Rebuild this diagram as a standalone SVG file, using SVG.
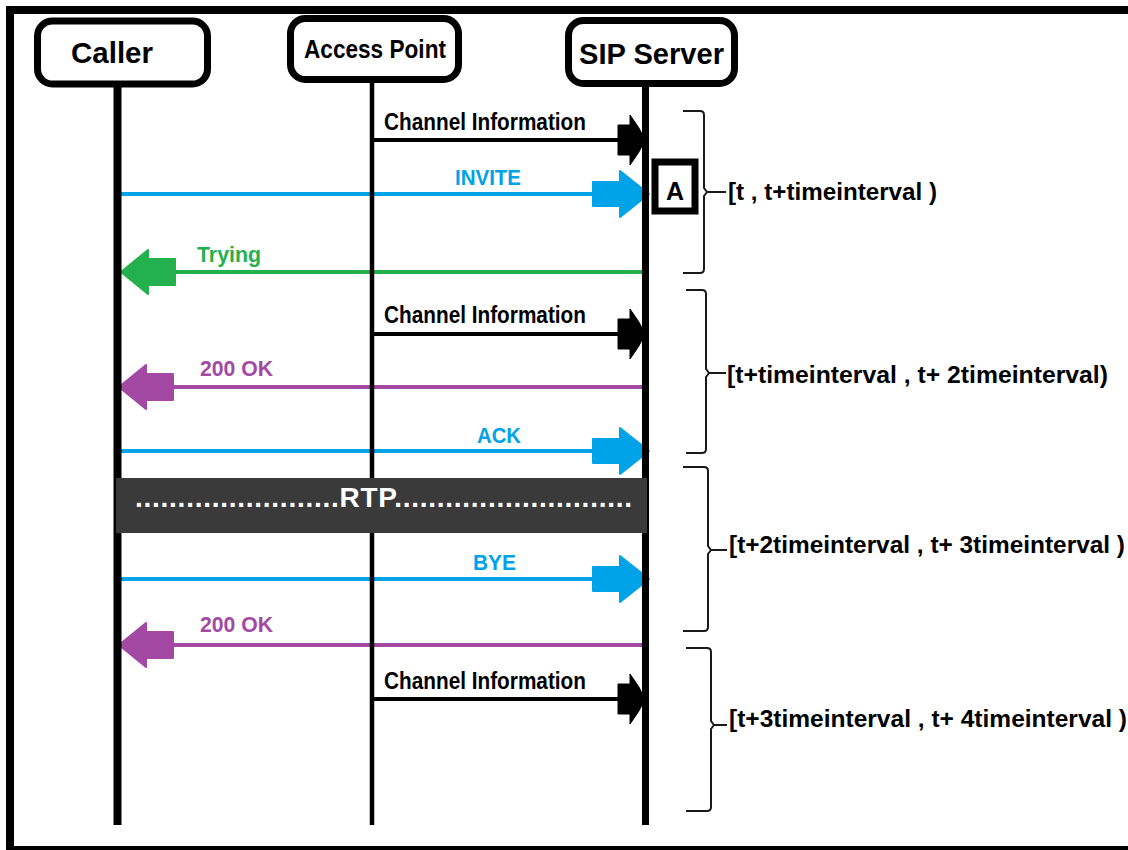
<svg xmlns="http://www.w3.org/2000/svg" xmlns:xlink="http://www.w3.org/1999/xlink" width="1128" height="850" viewBox="0 0 1128 850">
<style>
.t{font-family:"Liberation Sans",Arial,sans-serif;font-weight:bold;}
.box{fill:#fff;stroke:#000;stroke-width:7;}
.life{stroke:#000;fill:none;}
.msg{fill:none;stroke-width:4;}
.brace{fill:none;stroke:#1a1a1a;stroke-width:2;}
.blue{stroke:#00A2E8;fill:#00A2E8;}
.green{stroke:#22B14C;fill:#22B14C;}
.purple{stroke:#A349A4;fill:#A349A4;}
.black{stroke:#000;fill:#000;}
</style>
<defs>
<path id="arR" d="M-57,-12 H-30 V-23 L-1,0 L-30,23 V12 H-57 Z" stroke-width="2" stroke-linejoin="round"/>
<path id="arL" d="M55,-13 H28 V-22 L1,0 L28,22 V13 H55 Z" stroke-width="2" stroke-linejoin="round"/>
<path id="arK" d="M-27,-15 H-15 V-25 Q-5,-12 0,0 Q-5,12 -15,25 V15 H-27 Z" stroke-width="1" stroke-linejoin="round"/>
</defs>
<rect width="1128" height="850" fill="#fff"/>
<g id="frame">
<path d="M10,850 V10 H1128" fill="none" stroke="#000" stroke-width="8"/>
<path d="M6,848 H1128" fill="none" stroke="#000" stroke-width="4"/>
</g>
<g id="connectors">
<g id="m1-channel-info">
<line class="msg black" x1="372" y1="140" x2="622" y2="140"/>
<use xlink:href="#arK" x="645" y="140" class="black"/>
<text class="t" x="384" y="130" font-size="24" textLength="202" lengthAdjust="spacingAndGlyphs">Channel Information</text>
</g>
<g id="m2-invite">
<line class="msg blue" x1="120" y1="194" x2="598" y2="194"/>
<use xlink:href="#arR" x="650" y="194" class="blue"/>
<text class="t" x="455" y="185" font-size="22" fill="#00A2E8" textLength="66" lengthAdjust="spacingAndGlyphs">INVITE</text>
</g>
<g id="m3-trying">
<line class="msg green" x1="645" y1="272" x2="170" y2="272"/>
<use xlink:href="#arL" x="120" y="272" class="green"/>
<text class="t" x="197" y="262" font-size="22" fill="#22B14C" textLength="64" lengthAdjust="spacingAndGlyphs">Trying</text>
</g>
<g id="m4-channel-info">
<line class="msg black" x1="372" y1="334" x2="622" y2="334"/>
<use xlink:href="#arK" x="645" y="334" class="black"/>
<text class="t" x="384" y="323" font-size="24" textLength="202" lengthAdjust="spacingAndGlyphs">Channel Information</text>
</g>
<g id="m5-200ok">
<line class="msg purple" x1="645" y1="387" x2="170" y2="387"/>
<use xlink:href="#arL" x="118" y="387" class="purple"/>
<text class="t" x="200" y="376" font-size="22" fill="#A349A4" textLength="73" lengthAdjust="spacingAndGlyphs">200 OK</text>
</g>
<g id="m6-ack">
<line class="msg blue" x1="120" y1="451" x2="598" y2="451"/>
<use xlink:href="#arR" x="650" y="451" class="blue"/>
<text class="t" x="477" y="443" font-size="22" fill="#00A2E8" textLength="44" lengthAdjust="spacingAndGlyphs">ACK</text>
</g>
<g id="m7-bye">
<line class="msg blue" x1="120" y1="579" x2="598" y2="579"/>
<use xlink:href="#arR" x="650" y="579" class="blue"/>
<text class="t" x="473" y="570" font-size="22" fill="#00A2E8" textLength="43" lengthAdjust="spacingAndGlyphs">BYE</text>
</g>
<g id="m8-200ok">
<line class="msg purple" x1="645" y1="645" x2="170" y2="645"/>
<use xlink:href="#arL" x="118" y="645" class="purple"/>
<text class="t" x="200" y="632" font-size="22" fill="#A349A4" textLength="73" lengthAdjust="spacingAndGlyphs">200 OK</text>
</g>
<g id="m9-channel-info">
<line class="msg black" x1="372" y1="699" x2="622" y2="699"/>
<use xlink:href="#arK" x="645" y="699" class="black"/>
<text class="t" x="384" y="689" font-size="24" textLength="202" lengthAdjust="spacingAndGlyphs">Channel Information</text>
</g>
</g>
<g id="caller">
<line class="life" x1="117.5" y1="86" x2="117.5" y2="825" stroke-width="8"/>
<rect class="box" x="37.5" y="21" width="170" height="63" rx="15"/>
<text class="t" x="71" y="63" font-size="30" textLength="82" lengthAdjust="spacingAndGlyphs">Caller</text>
</g>
<g id="access-point">
<line class="life" x1="372" y1="80" x2="372" y2="825" stroke-width="4.5"/>
<rect class="box" x="290.5" y="18.5" width="168" height="61" rx="15"/>
<text class="t" x="304" y="58" font-size="26" textLength="142" lengthAdjust="spacingAndGlyphs">Access Point</text>
</g>
<g id="sip-server">
<line class="life" x1="645.5" y1="86" x2="645.5" y2="825" stroke-width="7"/>
<rect class="box" x="568.5" y="20.5" width="166" height="63" rx="15"/>
<text class="t" x="579" y="64" font-size="30" textLength="145" lengthAdjust="spacingAndGlyphs">SIP Server</text>
</g>
<g id="rtp">
<rect x="116" y="478" width="531" height="55" fill="#3a3a3a"/>
<text class="t" x="135" y="507" font-size="28" fill="#fff" textLength="497" lengthAdjust="spacing">........................RTP............................</text>
</g>
<g id="box-a">
<rect x="655" y="162" width="40" height="49" fill="#fff" stroke="#000" stroke-width="7"/>
<text class="t" x="675" y="200" font-size="25" text-anchor="middle">A</text>
</g>
<g id="intervals">
<g id="interval-1">
<path class="brace" d="M683,111 H700 Q704,111 704,115 V188 L707,192 L704,196 V269 Q704,273 700,273 H683 M707,192 H726"/>
<text class="t" x="728" y="200" font-size="24" textLength="209" lengthAdjust="spacingAndGlyphs">[t , t+timeinterval )</text>
</g>
<g id="interval-2">
<path class="brace" d="M686,290 H702 Q706,290 706,294 V369 L709,373 L706,377 V449 Q706,453 702,453 H686 M709,373 H726"/>
<text class="t" x="727" y="383" font-size="24" textLength="381" lengthAdjust="spacingAndGlyphs">[t+timeinterval , t+ 2timeinterval)</text>
</g>
<g id="interval-3">
<path class="brace" d="M683,467 H704 Q708,467 708,471 V546 L711,550 L708,554 V627 Q708,631 704,631 H683 M711,550 H727"/>
<text class="t" x="729" y="553" font-size="24" textLength="396" lengthAdjust="spacingAndGlyphs">[t+2timeinterval , t+ 3timeinterval )</text>
</g>
<g id="interval-4">
<path class="brace" d="M686,648 H707 Q711,648 711,652 V721 L714,725 L711,729 V807 Q711,811 707,811 H686 M714,725 H727"/>
<text class="t" x="729" y="727" font-size="24" textLength="398" lengthAdjust="spacingAndGlyphs">[t+3timeinterval , t+ 4timeinterval )</text>
</g>
</g>
</svg>
